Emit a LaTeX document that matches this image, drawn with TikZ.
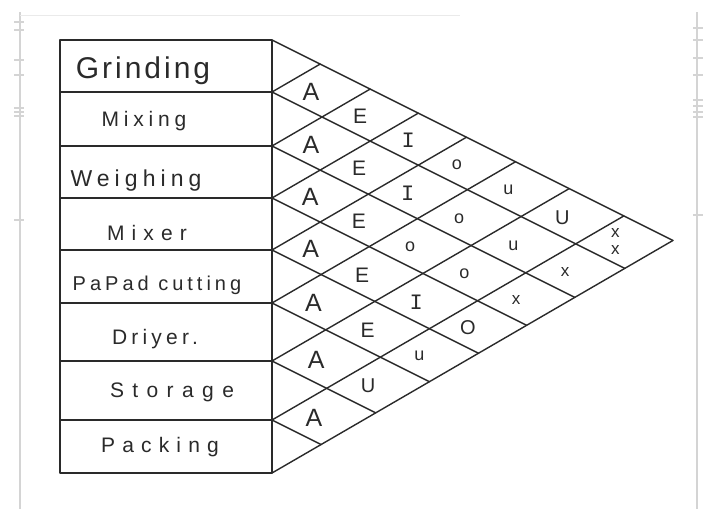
\documentclass[tikz,border=0pt]{standalone}
\usepackage{fontspec}
\setmainfont{Liberation Sans}
\newfontfamily\monof{Liberation Mono}
\usetikzlibrary{calc}
\newcommand\hw[3]{\fontsize{#1}{#1}\selectfont\addfontfeature{LetterSpace=#2}#3}
\definecolor{ink}{HTML}{2A2A2A}
\definecolor{pagegray}{HTML}{D4D4D4}
\tikzset{
  grid/.style={draw=ink, line width=1.4pt, line cap=round, line join=round},
  frame/.style={draw=pagegray, line width=2pt},
  tick/.style={draw=pagegray, line width=1.2pt},
  rowlbl/.style={inner sep=0pt, text=ink, anchor=center},
  rel/.style={inner sep=0pt, text=ink, anchor=center},
}
\begin{document}
\begin{tikzpicture}[x=1pt,y=-1pt]
\useasboundingbox (0,0) rectangle (707,509);
% page frame
\draw[frame] (20,12) -- (20,509);
\draw[frame] (697,12) -- (697,509);
\draw[draw=pagegray!50, line width=0.8pt] (20,15) -- (460,15);
\foreach \t in {22,30,60,75,108,112,116,220} \draw[tick] (14,\t) -- (24,\t);
\foreach \t in {28,40,58,75,100,106,112,117,215} \draw[tick] (693,\t) -- (703,\t);
% row boundaries
\def\ys{{40,92,146,198,250,303,361,420,473}}
\foreach \i in {0,...,8}{
  \foreach \j in {\i,...,8}{
    \pgfmathsetmacro\yi{\ys[\i]}
    \pgfmathsetmacro\yj{\ys[\j]}
    \pgfmathsetmacro\dx{(\yj-\yi)/1.08}
    \pgfmathsetmacro\gy{\yi+0.5*\dx}
    \coordinate (G\i\j) at (272+\dx,\gy);
  }
  \coordinate (L\i) at (60,\ys[\i]);
}
% left table
\draw[grid] (L0) rectangle (G88);
\foreach \k in {1,...,7} \draw[grid] (L\k) -- (G\k\k);
% diagonal grid
\foreach \k in {0,...,7} \draw[grid] (G\k\k) -- (G\k8);
\foreach \k in {1,...,8} \draw[grid] (G0\k) -- (G\k\k);
% row labels
\node[rowlbl] (grinding) at (143,71) {\hw{30}{10}{Grinding}};
\node[rowlbl] (mixing)   at (144,121) {\hw{21}{23}{Mixing}};
\node[rowlbl] (weighing) at (136,181) {\hw{23}{22}{Weighing}};
\node[rowlbl] (mixer)    at (147,233) {\hw{21}{34}{Mixer}};
\node[rowlbl] (papad)    at (157,285) {\hw{20}{20}{PaPad cutting}};
\node[rowlbl] (driyer)   at (155,339) {\hw{21}{20}{Driyer.}};
\node[rowlbl] (storage)  at (172,392) {\hw{21}{40}{Storage}};
\node[rowlbl] (packing)  at (160,447) {\hw{21}{34}{Packing}};
% relationship letters: a/b/size/text
\foreach \a/\b/\s/\t in {
  1/2/25/A, 2/3/25/A, 3/4/25/A, 4/5/25/A, 5/6/25/A, 6/7/25/A, 7/8/25/A,
  1/3/21/E, 2/4/21/E, 3/5/21/E, 4/6/21/E, 5/7/21/E, 6/8/20/U,
  1/4/22/{\monof I}, 2/5/22/{\monof I}, 3/6/18/o, 4/7/22/{\monof I}, 5/8/18/u,
  1/5/18/o, 2/6/18/o, 3/7/18/o, 4/8/20/O,
  1/6/18/u, 2/7/18/u, 3/8/17/x,
  1/7/20/U, 2/8/17/x}{
  \pgfmathtruncatemacro\am{\a-1}
  \pgfmathtruncatemacro\bm{\b-1}
  \node[rel] (r\a\b) at ($($(G\a\bm)!0.5!(G\am\b)$)+(-10,1)$) {\fontsize{\s}{\s}\selectfont\t};
}
\node[rel] (r18) at ($($(G17)!0.5!(G08)$)+(-9,0)$) {\fontsize{17}{21}\selectfont\begin{tabular}{@{}c@{}}x\\[-4pt]x\end{tabular}};
\end{tikzpicture}
\end{document}
